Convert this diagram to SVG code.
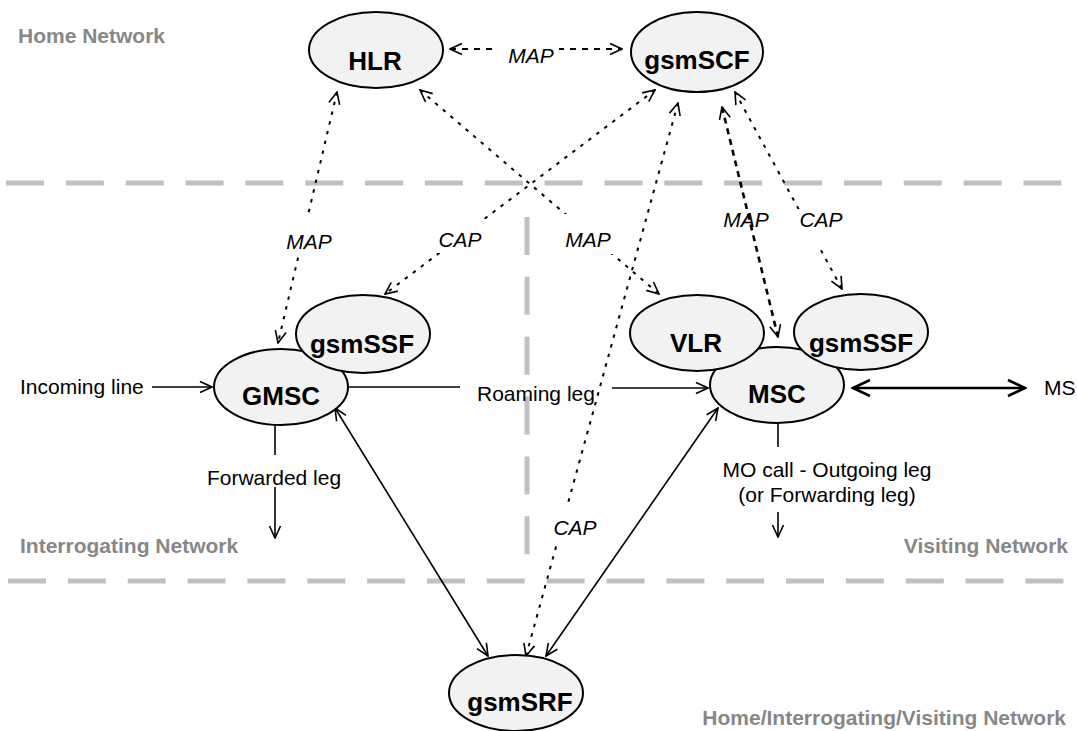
<svg xmlns="http://www.w3.org/2000/svg" width="1077" height="731" viewBox="0 0 1077 731">
<style>
.node ellipse{fill:#f2f2f2;stroke:#000;stroke-width:2}
.node text{font-family:"Liberation Sans",Arial,sans-serif;font-size:26px;font-weight:bold;text-anchor:middle;fill:#000}
.zone{font-family:"Liberation Sans",Arial,sans-serif;font-size:21px;font-weight:bold;fill:#878787}
.sep{stroke:#c0c0c0;stroke-width:5;fill:none;stroke-dasharray:38 21.85}
.lbl{font-family:"Liberation Sans",Arial,sans-serif;font-size:21px;fill:#000}
.it{font-style:italic;text-anchor:middle}
.solid{stroke:#000;stroke-width:1.6;fill:none}
.dot{stroke:#000;stroke-width:2;fill:none;stroke-dasharray:3.5 6.5}
.dash{stroke:#000;stroke-width:2;fill:none;stroke-dasharray:6 6}
.thick{stroke:#000;stroke-width:2.6;fill:none;stroke-dasharray:6 5}
.bg{fill:#fff}
</style>
<defs>
<marker id="a" viewBox="0 0 14 14" refX="13" refY="7" markerWidth="14" markerHeight="14" markerUnits="userSpaceOnUse" orient="auto-start-reverse"><path d="M1,1.5 L13,7 L1,12.5" fill="none" stroke="#000" stroke-width="1.6"/></marker>
<marker id="b" viewBox="0 0 20 20" refX="18" refY="10" markerWidth="20" markerHeight="20" markerUnits="userSpaceOnUse" orient="auto-start-reverse"><path d="M1,2 L18,10 L1,18" fill="none" stroke="#000" stroke-width="2.6"/></marker>
</defs>
<rect width="1077" height="731" fill="#fff"/>
<g id="zones">
<line class="sep" x1="6" y1="183" x2="1077" y2="183"/>
<line class="sep" x1="8" y1="581" x2="1077" y2="581"/>
<line class="sep" x1="527" y1="217" x2="527" y2="576"/>
<text class="zone" x="18" y="43">Home Network</text>
<text class="zone" x="20" y="553">Interrogating Network</text>
<text class="zone" x="1068" y="553" text-anchor="end">Visiting Network</text>
<text class="zone" x="1066" y="725" text-anchor="end">Home/Interrogating/Visiting Network</text>
</g>
<g id="connectors">
<line class="dash" x1="450" y1="49" x2="622" y2="49" marker-start="url(#a)" marker-end="url(#a)"/>
<rect class="bg" x="493" y="38" width="66" height="26"/>
<text class="lbl it" x="531" y="63">MAP</text>
<line class="dot" x1="337" y1="92" x2="278" y2="343" marker-start="url(#a)" marker-end="url(#a)"/>
<rect class="bg" x="283" y="217" width="52" height="40"/>
<text class="lbl it" x="309" y="249">MAP</text>
<line class="dot" x1="420" y1="90" x2="659" y2="294" marker-start="url(#a)" marker-end="url(#a)"/>
<line class="dot" x1="655" y1="90" x2="385" y2="294" marker-start="url(#a)" marker-end="url(#a)"/>
<rect class="bg" x="434" y="219" width="54" height="34"/>
<text class="lbl it" x="460" y="247">CAP</text>
<rect class="bg" x="561" y="214" width="54" height="40"/>
<text class="lbl it" x="588" y="247">MAP</text>
<line class="thick" x1="722" y1="107" x2="778" y2="337" marker-start="url(#a)" marker-end="url(#a)"/>
<text class="lbl it" x="746" y="227">MAP</text>
<line class="dot" x1="735" y1="92" x2="842" y2="289" marker-start="url(#a)" marker-end="url(#a)"/>
<rect class="bg" x="796" y="209" width="50" height="39"/>
<text class="lbl it" x="821" y="227">CAP</text>
<line class="dot" x1="678" y1="103" x2="526" y2="656" marker-start="url(#a)" marker-end="url(#a)"/>
<rect class="bg" x="550" y="502" width="50" height="39"/>
<text class="lbl it" x="575" y="535">CAP</text>
<line class="solid" x1="335" y1="408" x2="488" y2="656" marker-start="url(#a)" marker-end="url(#a)"/>
<line class="solid" x1="718" y1="408" x2="546" y2="656" marker-start="url(#a)" marker-end="url(#a)"/>
<line class="solid" x1="152" y1="387" x2="212" y2="387" marker-end="url(#a)"/>
<text class="lbl" x="20" y="394">Incoming line</text>
<line class="solid" x1="348" y1="387" x2="460" y2="387"/>
<line class="solid" x1="612" y1="388" x2="708" y2="388" marker-end="url(#a)"/>
<text class="lbl" x="477" y="401">Roaming leg</text>
<line class="solid" x1="275" y1="425" x2="275" y2="455"/>
<line class="solid" x1="275" y1="487" x2="275" y2="538" marker-end="url(#a)"/>
<text class="lbl" x="274" y="485" text-anchor="middle">Forwarded leg</text>
<line class="solid" x1="778" y1="423" x2="778" y2="447"/>
<line class="solid" x1="778" y1="512" x2="778" y2="537" marker-end="url(#a)"/>
<text class="lbl" x="827" y="477" text-anchor="middle">MO call - Outgoing leg</text>
<text class="lbl" x="827" y="502" text-anchor="middle">(or Forwarding leg)</text>
<line stroke="#000" stroke-width="2.6" x1="853" y1="388" x2="1025" y2="388" marker-start="url(#b)" marker-end="url(#b)"/>
<text class="lbl" x="1044" y="395">MS</text>
</g>
<g id="HLR" class="node"><ellipse cx="376" cy="50" rx="67" ry="38"/><text x="375" y="70">HLR</text></g>
<g id="gsmSCF" class="node"><ellipse cx="697" cy="52" rx="66" ry="40"/><text x="697" y="69">gsmSCF</text></g>
<g id="GMSC" class="node"><ellipse cx="281" cy="387" rx="67" ry="38"/><text x="281" y="405">GMSC</text></g>
<g id="gsmSSF-I" class="node"><ellipse cx="363" cy="334" rx="67" ry="39"/><text x="362" y="353">gsmSSF</text></g>
<g id="MSC" class="node"><ellipse cx="777" cy="385" rx="67" ry="38"/><text x="777" y="403">MSC</text></g>
<g id="VLR" class="node"><ellipse cx="697" cy="333" rx="67" ry="38"/><text x="696" y="352">VLR</text></g>
<g id="gsmSSF-V" class="node"><ellipse cx="861" cy="332" rx="67" ry="38"/><text x="861" y="352">gsmSSF</text></g>
<g id="gsmSRF" class="node"><ellipse cx="516" cy="693" rx="67" ry="38"/><text x="520" y="711">gsmSRF</text></g>
</svg>
